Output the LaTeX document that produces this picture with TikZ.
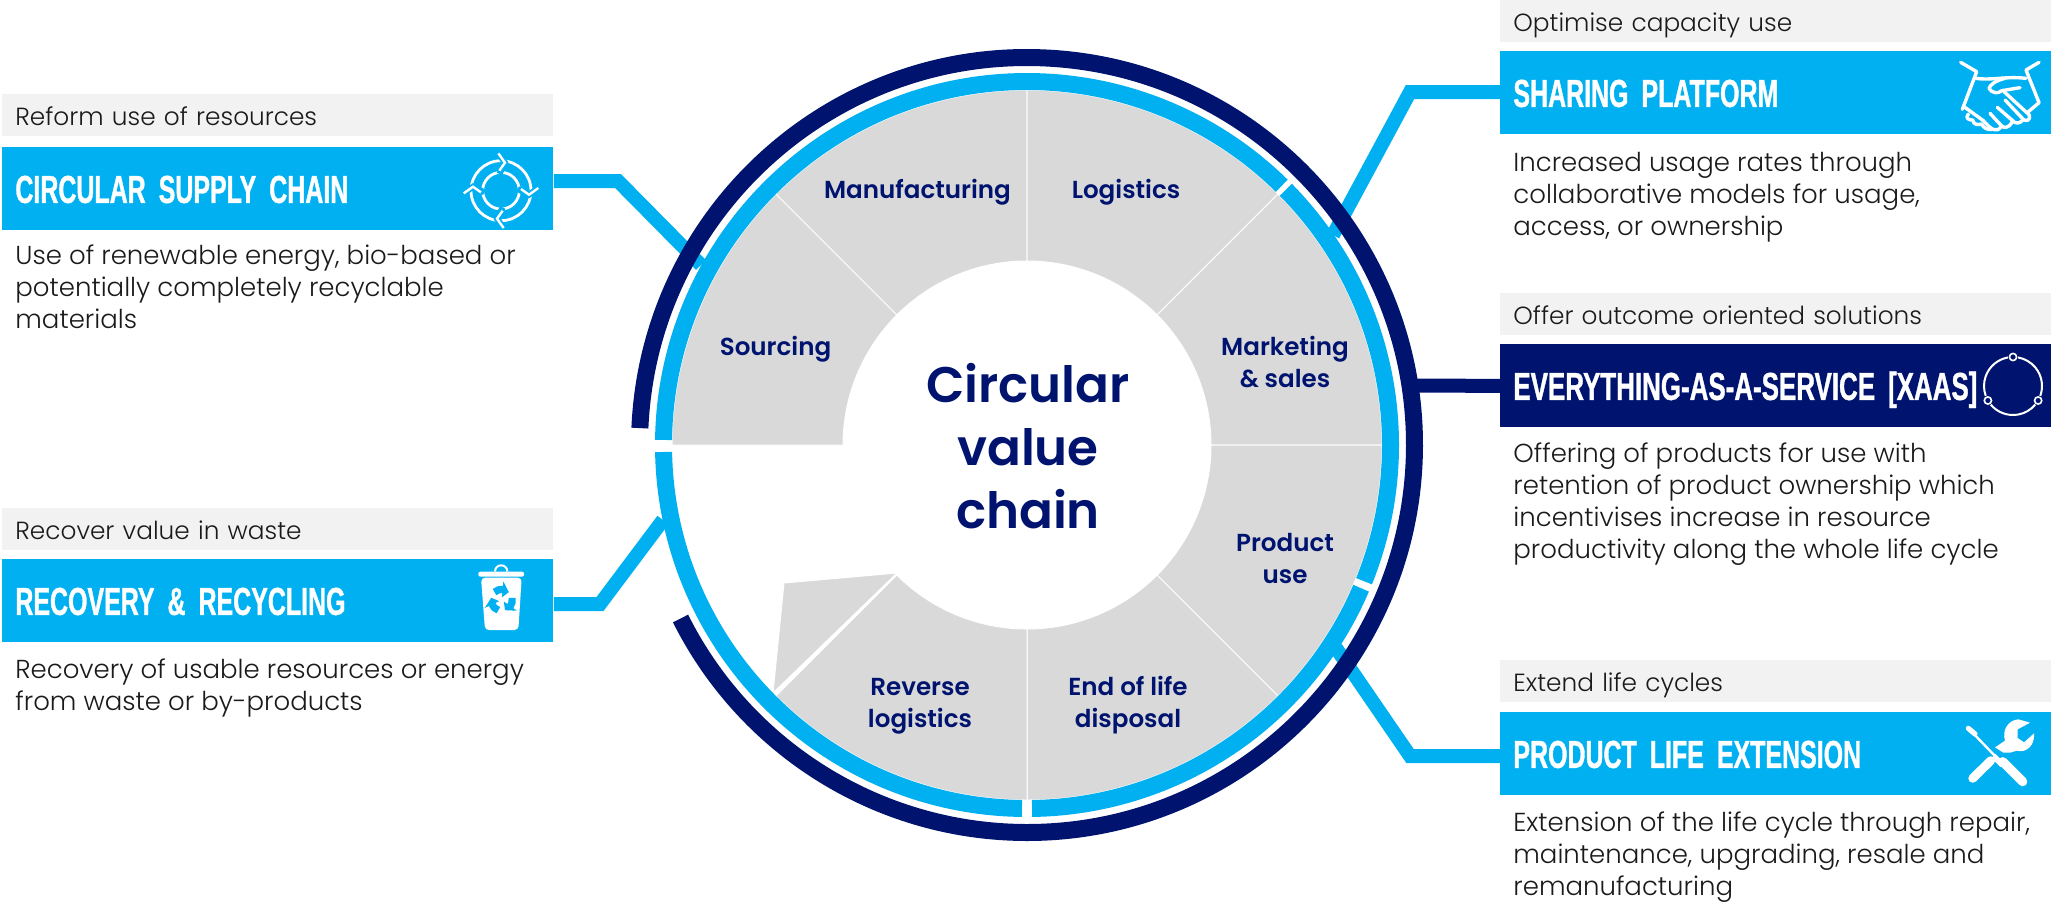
\documentclass[tikz,border=0pt]{standalone}
\usepackage{fontspec}
\setmainfont{Poppins Light}[BoldFont=Poppins SemiBold]
\newfontfamily\titlefont[FakeStretch=0.64,FakeBold=0.9,WordSpace=0.25]{Liberation Sans Bold}
\newfontfamily\titlewide[FakeStretch=0.665,FakeBold=0.9,WordSpace=0.25]{Liberation Sans Bold}
\definecolor{ringCyan}{HTML}{00B0F0}
\definecolor{ringNavy}{HTML}{00146F}
\definecolor{sectorGrey}{HTML}{D9D9D9}
\definecolor{headGrey}{HTML}{F2F2F2}
\definecolor{bodyInk}{HTML}{1A1A1A}
\usetikzlibrary{calc,positioning}
\tikzset{
  headbox/.style={anchor=north west,fill=headGrey,text=bodyInk,inner xsep=6.5pt,inner ysep=0pt,
    text width=262.5pt,minimum height=21pt,align=left,font=\fontsize{12.4}{14}\selectfont,text height=10.5pt,text depth=0.5pt},
  titlebox/.style={anchor=north west,fill=ringCyan,text=white,inner xsep=6.5pt,inner ysep=0pt,
    text width=262.5pt,minimum height=41.5pt,align=left,font=\titlefont\fontsize{19.5}{22}\selectfont,text height=14pt,text depth=0pt},
  bodytext/.style={anchor=base west,inner sep=0pt,align=left,text=bodyInk,font=\fontsize{13}{16}\selectfont},
  sectorlabel/.style={anchor=base,inner sep=0pt,align=center,text=ringNavy,font=\bfseries\fontsize{12.3}{16}\selectfont},
  sectorfill/.style={fill=sectorGrey,draw=white,line width=0.5pt},
  cyanlink/.style={draw=ringCyan,line width=7pt,line join=miter},
  navylink/.style={draw=ringNavy,line width=7pt},
  cyanring/.style={draw=ringCyan,line width=8.5pt},
  navyring/.style={draw=ringNavy,line width=8.5pt},
  iconline/.style={draw=white,line width=1.7pt,line cap=round,line join=round,fill=none}
}
\begin{document}
\begin{tikzpicture}[x=0.5pt,y=0.5pt]
  \useasboundingbox (0,0) rectangle (2051,-907);
  \coordinate (hub) at (1027,-445);

  \foreach \a in {180,135,90,45,0,-45,-90}{
    \path[sectorfill] ($(hub)+(\a:355)$) arc[start angle=\a,delta angle=-45,radius=355]
      -- ($(hub)+(\a-45:184)$) arc[start angle=\a-45,delta angle=45,radius=184] -- cycle;
  }
  \path[sectorfill] (897,-573) -- (784,-583) -- (773,-693) -- cycle;

  \node[headbox] (supplyhead) at (2,-94) {Reform use of resources};
  \node[titlebox] (supply) at (2,-147) {CIRCULAR SUPPLY CHAIN};
  \node[bodytext] (supplytext) at (15,-328) {Use of renewable energy, bio-based or\\potentially completely recyclable\\materials};

  \node[headbox] (recoveryhead) at (2,-508) {Recover value in waste};
  \node[titlebox] (recovery) at (2,-559) {RECOVERY \& RECYCLING};
  \node[bodytext] (recoverytext) at (15,-710) {Recovery of usable resources or energy\\from waste or by-products};

  \node[headbox] (sharinghead) at (1500,0) {Optimise capacity use};
  \node[titlebox] (sharing) at (1500,-51) {SHARING PLATFORM};
  \node[bodytext] (sharingtext) at (1513,-235) {Increased usage rates through\\collaborative models for usage,\\access, or ownership};

  \node[headbox] (xaashead) at (1500,-293) {Offer outcome oriented solutions};
  \node[titlebox,fill=ringNavy,font=\titlewide\fontsize{19.5}{22}\selectfont] (xaas) at (1500,-344) {EVERYTHING-AS-A-SERVICE [XAAS]};
  \node[bodytext] (xaastext) at (1513,-558) {Offering of products for use with\\retention of product ownership which\\incentivises increase in resource\\productivity along the whole life cycle};

  \node[headbox] (extendhead) at (1500,-660) {Extend life cycles};
  \node[titlebox] (extend) at (1500,-712) {PRODUCT LIFE EXTENSION};
  \node[bodytext] (extendtext) at (1513,-895) {Extension of the life cycle through repair,\\maintenance, upgrading, resale and\\remanufacturing};

  \coordinate (supplyknee) at (618,-181);
  \coordinate (supplyend) at (701,-265);
  \coordinate (recoveryknee) at (600,-604);
  \coordinate (recoveryend) at (663,-520);
  \coordinate (sharingknee) at (1410,-92);
  \coordinate (sharingend) at (1333,-235);
  \coordinate (extendknee) at (1410,-756);
  \coordinate (extendend) at (1336,-648);
  \coordinate (xaasend) at (1415,-385.5);

  \draw[cyanlink] (supply.east |- supplyknee) -- (supplyknee) -- (supplyend);
  \draw[cyanlink] (recovery.east |- recoveryknee) -- (recoveryknee) -- (recoveryend);
  \draw[cyanlink] (sharing.west |- sharingknee) -- (sharingknee) -- (sharingend);
  \draw[cyanlink] (extend.west |- extendknee) -- (extendknee) -- (extendend);
  \draw[navylink] (xaas.west) -- (xaasend);

  \draw[cyanring] ($(hub)+(179.2:363.5)$) arc[start angle=179.2,end angle=45.5,radius=363.5];
  \draw[cyanring] ($(hub)+(44.6:363.5)$) arc[start angle=44.6,end angle=-22,radius=363.5];
  \draw[cyanring] ($(hub)+(-23.2:363.5)$) arc[start angle=-23.2,end angle=-89.2,radius=363.5];
  \draw[cyanring] ($(hub)+(-90.8:363.5)$) arc[start angle=-90.8,end angle=-178.9,radius=363.5];
  \draw[navyring] ($(hub)+(177.5:387.5)$) arc[start angle=177.5,end angle=-153.4,radius=387.5];

  \node[sectorlabel] (sourcing) at (775.5,-355) {Sourcing};
  \node[sectorlabel] (manufacturing) at (917.5,-198) {Manufacturing};
  \node[sectorlabel] (logistics) at (1126,-198) {Logistics};
  \node[sectorlabel] (marketing) at (1285,-387) {Marketing\\\& sales};
  \node[sectorlabel] (productuse) at (1285,-583) {Product\\use};
  \node[sectorlabel] (disposal) at (1128,-727) {End of life\\disposal};
  \node[sectorlabel] (reverse) at (920,-727) {Reverse\\logistics};
  \node[sectorlabel,font=\bfseries\fontsize{25}{31.5}\selectfont] (hubtitle) at (1028,-528) {Circular\\value\\chain};

  % icons
  \begin{scope}[shift={(501,-190.7)},x=0.1667pt,y=-0.1667pt]
    \draw[white,line width=1.4pt] (0,0) circle[radius=90];
    \draw[white,line width=1.4pt] (0,0) circle[radius=55];
    \foreach \a in {0,90,180,270}{
      \begin{scope}[rotate=\a]
        \draw[ringCyan,line width=3pt] (-8,-112) -- (12,-84) -- (-5,-50);
        \draw[white,line width=1.2pt,line join=miter] (-8,-112) -- (12,-84) -- (-5,-60);
      \end{scope}
    }
  \end{scope}

  \begin{scope}[shift={(450,-555)},x=0.1667pt,y=-0.1667pt]
    \draw[white,line width=1pt,rounded corners=3pt] (135,47) -- (135,31) -- (172,31) -- (172,47);
    \fill[white,rounded corners=1pt] (85,50) rectangle (222,65);
    \fill[white,rounded corners=2pt] (93,68) -- (215,68) -- (205,225) -- (105,225) -- cycle;
    \foreach \a in {90,210,330}{
      \begin{scope}[shift={(155,135)},rotate=\a]
        \draw[ringCyan,line width=3.6pt] (-42:32) arc[start angle=-42,end angle=8,radius=32];
        \fill[ringCyan] (5:8) -- (5:56) -- (42:32) -- cycle;
      \end{scope}
    }
  \end{scope}

  \begin{scope}[shift={(1940,-50)},x=0.1667pt,y=-0.1667pt]
    \draw[iconline] (62,37) -- (110,65) -- (67,178);
    \draw[iconline] (297,37) -- (258,60) -- (297,158) -- (265,185);
    \draw[iconline] (108,85) .. controls (150,92) and (200,78) .. (258,85);
    \draw[iconline] (195,85) .. controls (165,92) and (150,105) .. (147,115) .. controls (155,130) and (175,132) .. (185,122) -- (240,113);
    \draw[iconline] (192,125) -- (268,195) .. controls (272,212) and (258,215) .. (250,208) -- (195,150);
    \draw[iconline] (250,208) .. controls (240,222) and (225,222) .. (218,212) -- (172,172);
    \draw[iconline] (218,212) .. controls (205,240) and (190,232) .. (185,228) -- (150,190);
    \draw[iconline] (185,228) .. controls (170,250) and (155,240) .. (130,212) -- (72,170);
    \draw[iconline] (85,192) .. controls (75,205) and (85,210) .. (98,210) .. controls (100,225) and (115,225) .. (125,222) .. controls (130,235) and (145,240) .. (155,238);
  \end{scope}

  \begin{scope}[shift={(1950,-710)},x=0.1667pt,y=-0.1667pt]
    \draw[white,line width=4.4pt,line cap=round] (68,205) -- (122,152);
    \fill[white] (135,112) -- (165,92) .. controls (155,60) and (175,30) .. (205,28) -- (240,38) -- (203,58) -- (203,84) -- (222,97) -- (252,70) .. controls (255,105) and (230,130) .. (200,122) -- (180,128) -- (160,128) -- cycle;
    \draw[ringCyan,line width=2.8pt] (105,105) -- (142,142);
    \draw[white,line width=1.2pt] (62,62) -- (135,138);
    \draw[white,line width=2.6pt,line cap=round] (55,55) -- (75,72);
    \draw[white,line width=3pt] (130,138) -- (158,165);
    \draw[white,line width=4.6pt,line cap=round] (158,155) -- (218,215);
  \end{scope}

  \begin{scope}[shift={(2013,-386)}]
    \draw[white,line width=1pt] (0,0) ++(100:29) arc[start angle=100,end angle=200,radius=29];
    \draw[white,line width=1pt] (0,0) ++(220:29) arc[start angle=220,end angle=320,radius=29];
    \draw[white,line width=1pt] (0,0) ++(340:29) arc[start angle=340,end angle=440,radius=29];
    \foreach \a in {90,210,330}
      \draw[white,line width=0.8pt] (\a:29) circle[radius=3.6];
  \end{scope}
\end{tikzpicture}
\end{document}
